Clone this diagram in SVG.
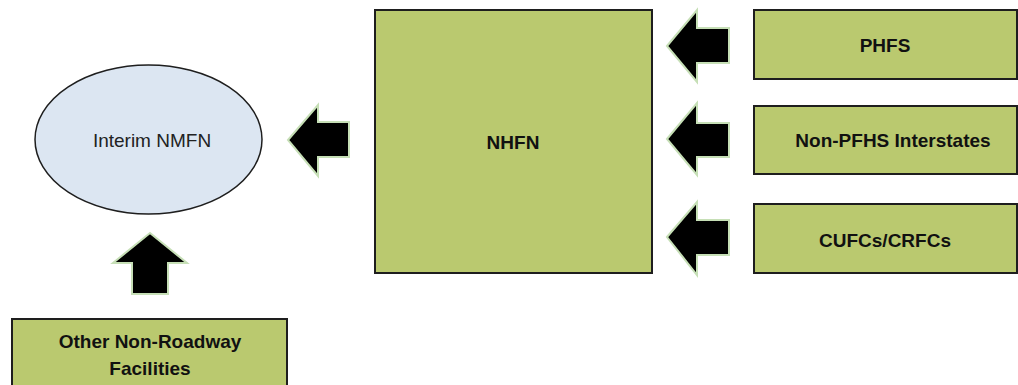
<svg xmlns="http://www.w3.org/2000/svg" width="1018" height="385" viewBox="0 0 1018 385">
<style>
.box{fill:#bac96f;stroke:#1e1e1e;stroke-width:2}
.arr{fill:#000;stroke:#c6dfb6;stroke-width:2;stroke-linejoin:miter}
.b{font-family:"Liberation Sans",Arial,sans-serif;font-weight:bold;font-size:19px;fill:#111;text-anchor:middle;dominant-baseline:central}
.n{font-family:"Liberation Sans",Arial,sans-serif;font-size:19px;fill:#222;text-anchor:middle;dominant-baseline:central}
</style>
<rect width="1018" height="385" fill="#fff"/>
<g id="interim">
<ellipse cx="148.5" cy="139.5" rx="113.5" ry="74.5" fill="#dce6f2" stroke="#1e1e1e" stroke-width="1.5"/>
<text class="n" x="152" y="140">Interim NMFN</text>
</g>
<g id="nhfn">
<rect class="box" x="375" y="10" width="277" height="263"/>
<text class="b" x="513" y="142">NHFN</text>
</g>
<g id="phfs">
<rect class="box" x="754" y="10" width="263" height="69"/>
<text class="b" x="885" y="45">PHFS</text>
</g>
<g id="nonpfhs">
<rect class="box" x="754" y="106" width="263" height="68"/>
<text class="b" x="893" y="140">Non-PFHS Interstates</text>
</g>
<g id="cufcs">
<rect class="box" x="754" y="204" width="263" height="69"/>
<text class="b" x="885" y="240">CUFCs/CRFCs</text>
</g>
<g id="other">
<rect class="box" x="12" y="319" width="275" height="75"/>
<text class="b" x="150" y="341">Other Non-Roadway</text>
<text class="b" x="150" y="368">Facilities</text>
</g>
<g id="connectors">
<polygon class="arr" points="667,46 697,10 697,28 729,28 729,63 697,63 697,82"/>
<polygon class="arr" points="667,139 697,103 697,123 729,123 729,157 697,157 697,175"/>
<polygon class="arr" points="667,237 697,202 697,220 729,220 729,255 697,255 697,275"/>
<polygon class="arr" points="288,140 318,105 318,122 349,122 349,157 318,157 318,176"/>
<polygon class="arr" points="150,233 187,263 168,263 168,294 132,294 132,263 113,263"/>
</g>
</svg>
